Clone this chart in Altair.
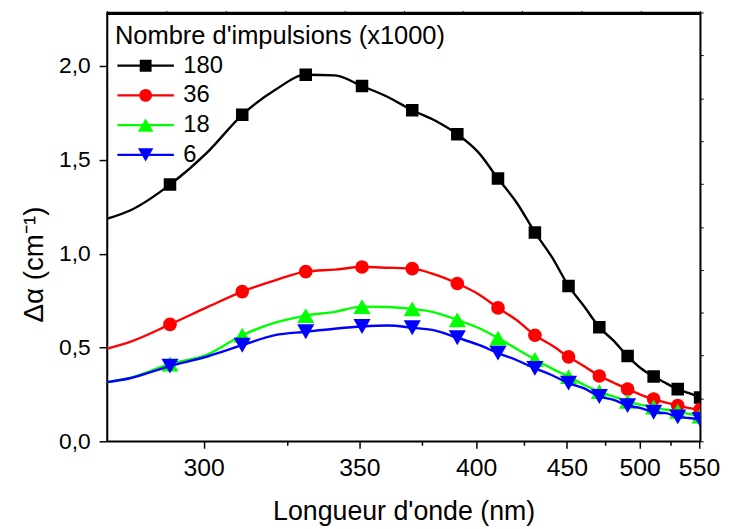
import altair as alt
import pandas as pd

# ---------------- data ----------------
series = ["180", "36", "18", "6"]
colors = ["#000000", "#FF0000", "#00FF00", "#0000FF"]
shapes = ["square", "circle", "triangle-up", "triangle-down"]
marker_sizes = [160, 190, 300, 300]

wavelength = [275.6, 281, 291, 301, 311, 321, 331, 341, 351, 361, 371, 381, 391,
              401, 411, 421, 431, 441, 451, 461, 471, 481, 491, 501, 511, 521,
              531, 541, 551]
marker_wavelength = [291, 311, 331, 351, 371, 391, 411, 431, 451, 471, 491,
                     511, 531, 551]

val_180 = [1.186, 1.23, 1.368, 1.54, 1.740, 1.872, 1.953, 1.95, 1.893, 1.835,
           1.764, 1.708, 1.636, 1.541, 1.400, 1.27, 1.113, 0.98, 0.828, 0.718,
           0.608, 0.535, 0.454, 0.389, 0.345, 0.31, 0.278, 0.257, 0.234]
val_36 = [0.494, 0.53, 0.623, 0.715, 0.798, 0.858, 0.904, 0.915, 0.929, 0.925,
          0.920, 0.888, 0.841, 0.785, 0.711, 0.645, 0.565, 0.51, 0.450, 0.40,
          0.348, 0.312, 0.278, 0.248, 0.225, 0.206, 0.190, 0.177, 0.169]
val_18 = [0.315, 0.338, 0.412, 0.462, 0.565, 0.632, 0.670, 0.69, 0.718, 0.716,
          0.706, 0.686, 0.647, 0.605, 0.550, 0.492, 0.436, 0.387, 0.345, 0.30,
          0.265, 0.238, 0.213, 0.194, 0.183, 0.168, 0.160, 0.146, 0.134]
val_6 = [0.315, 0.336, 0.401, 0.452, 0.512, 0.566, 0.584, 0.60, 0.612, 0.617,
         0.605, 0.59, 0.552, 0.515, 0.470, 0.432, 0.389, 0.352, 0.310, 0.282,
         0.239, 0.221, 0.190, 0.177, 0.155, 0.15, 0.130, 0.124, 0.116]

x_major_ticks = [300, 350, 400, 450, 500, 550]
x_minor_ticks = [325, 375, 425, 475, 525]
y_ticks = [0.0, 0.5, 1.0, 1.5, 2.0]

# ---------------- table ----------------
values = {"180": val_180, "36": val_36, "18": val_18, "6": val_6}
rows = []
for s in series:
    for w, v in zip(wavelength, values[s]):
        rows.append({"series": s, "wl": w, "val": v,
                     "marker": w in marker_wavelength})
df = pd.DataFrame(rows)

FONT = "Liberation Sans"
W, H = 599, 433
Y_MAX = 2.285
E_MIN, E_MAX = 2.25, 4.5

x_tick_vals = [1240.0 / w for w in sorted(x_major_ticks + x_minor_ticks)]
major_test = "round(1240/datum.value) % 50 == 0"

x_scale = alt.Scale(domain=[E_MIN, E_MAX], reverse=True, nice=False, zero=False)
y_scale = alt.Scale(domain=[0, Y_MAX], nice=False, zero=True)

x_axis = alt.Axis(
    orient="bottom",
    values=x_tick_vals,
    labelExpr=f"{major_test} ? '' + round(1240/datum.value) : ''",
    tickSize={"condition": {"test": major_test, "value": 7}, "value": 4},
    labelOverlap=False, labelBound=False, labelFlush=False,
    labelFont=FONT, labelFontSize=25, labelColor="black", labelPadding=8,
    title="Longueur d'onde (nm)", titleFont=FONT, titleFontSize=27,
    titleFontWeight="normal", titleColor="black", titleY=71,
    titleBaseline="middle",
    domainColor="black", domainWidth=1.5, tickColor="black", tickWidth=1.5,
    grid=False,
)
y_axis = alt.Axis(
    orient="left",
    values=y_ticks,
    labelExpr="replace(format(datum.value, '.1f'), '.', ',')",
    tickSize=8, labelFont=FONT, labelFontSize=23, labelColor="black",
    labelPadding=9,
    title="Δα (cm⁻¹)", titleFont=FONT, titleFontSize=28,
    titleFontWeight="normal", titleColor="black", titleAngle=270,
    titleX=-73, titleY=254, titleAlign="center", titleBaseline="middle",
    domainColor="black", domainWidth=1.5, tickColor="black", tickWidth=1.5,
    grid=False,
)

base = alt.Chart(df).transform_calculate(E="1240/datum.wl")

layers = []
for s, c, sh, sz in zip(series, colors, shapes, marker_sizes):
    line = base.transform_filter(alt.datum.series == s).mark_line(
        color=c, strokeWidth=2.4, interpolate="monotone", clip=True
    ).encode(
        x=alt.X("E:Q", scale=x_scale, axis=None),
        y=alt.Y("val:Q", scale=y_scale, axis=None),
    )
    pts = base.transform_filter(
        (alt.datum.series == s) & (alt.datum.marker == True)
    ).mark_point(shape=sh, size=sz, filled=True, color=c, opacity=1, clip=True).encode(
        x=alt.X("E:Q", scale=x_scale, axis=None),
        y=alt.Y("val:Q", scale=y_scale, axis=None),
    )
    layers += [line, pts]

# legend carrier: symbols are a line segment with the marker in its middle
seg = "M-4.07,-0.17H4.07V0.17H-4.07Z "
legend_paths = [
    seg + "M-0.857,-0.857H0.857V0.857H-0.857Z",
    seg + "M-0.914,0A0.914,0.914,0,1,1,0.914,0A0.914,0.914,0,1,1,-0.914,0Z",
    seg + "M0,-0.964L1.114,0.964L-1.114,0.964Z",
    seg + "M-1.114,-0.964L1.114,-0.964L0,0.964Z",
]
legend = alt.Legend(
    title="Nombre d'impulsions (x1000)", orient="none", legendX=8, legendY=12,
    titleFont=FONT, titleFontSize=25.7, titleFontWeight="normal",
    titleColor="black", titlePadding=4, titleLimit=500,
    labelFont=FONT, labelFontSize=24, labelColor="black",
    symbolSize=196, symbolOffset=19, labelOffset=26, rowPadding=6,
    symbolStrokeWidth=0, symbolOpacity=1, padding=0,
)
legend_layer = base.mark_point(filled=True, opacity=0).encode(
    x=alt.X("E:Q", scale=x_scale, axis=None),
    y=alt.Y("val:Q", scale=y_scale, axis=None),
    color=alt.Color("series:N", scale=alt.Scale(domain=series, range=colors),
                    legend=legend),
    shape=alt.Shape("series:N", scale=alt.Scale(domain=series, range=legend_paths),
                    legend=legend),
)
layers.append(legend_layer)

# top edge of the frame
top_edge = alt.Chart(df).mark_rule(color="black", strokeWidth=2).encode(
    x=alt.value(0), x2=alt.value(W), y=alt.value(1)
)
layers.append(top_edge)

main = alt.layer(*layers)

# axis carriers (invisible marks): bottom/left labelled axes, top/right frame
axes_bl = base.mark_line(opacity=0).encode(
    x=alt.X("E:Q", scale=x_scale, axis=x_axis),
    y=alt.Y("val:Q", scale=y_scale, axis=y_axis),
    detail="series:N",
)
axes_tr = base.mark_line(opacity=0).encode(
    x=alt.X("E:Q", scale=x_scale, axis=alt.Axis(
        orient="top", values=[E_MAX - 0.225 * k for k in range(11)],
        labels=False, domain=True, domainColor="black", domainWidth=1.5,
        tickSize=2, tickColor="black", tickWidth=1, grid=False, title=None)),
    y=alt.Y("val:Q", scale=y_scale, axis=alt.Axis(
        orient="right", values=[Y_MAX * k / 10 for k in range(11)],
        labels=False, domain=True, domainColor="black", domainWidth=1.5,
        tickSize=3, tickColor="black", tickWidth=1, grid=False, title=None)),
    detail="series:N",
)

chart = alt.layer(main, axes_bl, axes_tr).resolve_axis(
    x="independent", y="independent"
).properties(
    width=W, height=H,
    autosize=alt.AutoSizeParams(type="none"),
    padding={"left": 100, "top": 2, "right": 22, "bottom": 86},
    background="white",
).configure_view(stroke="black", strokeWidth=1.5)

chart.save("out.html", embed_options={"renderer": "svg", "actions": False})
